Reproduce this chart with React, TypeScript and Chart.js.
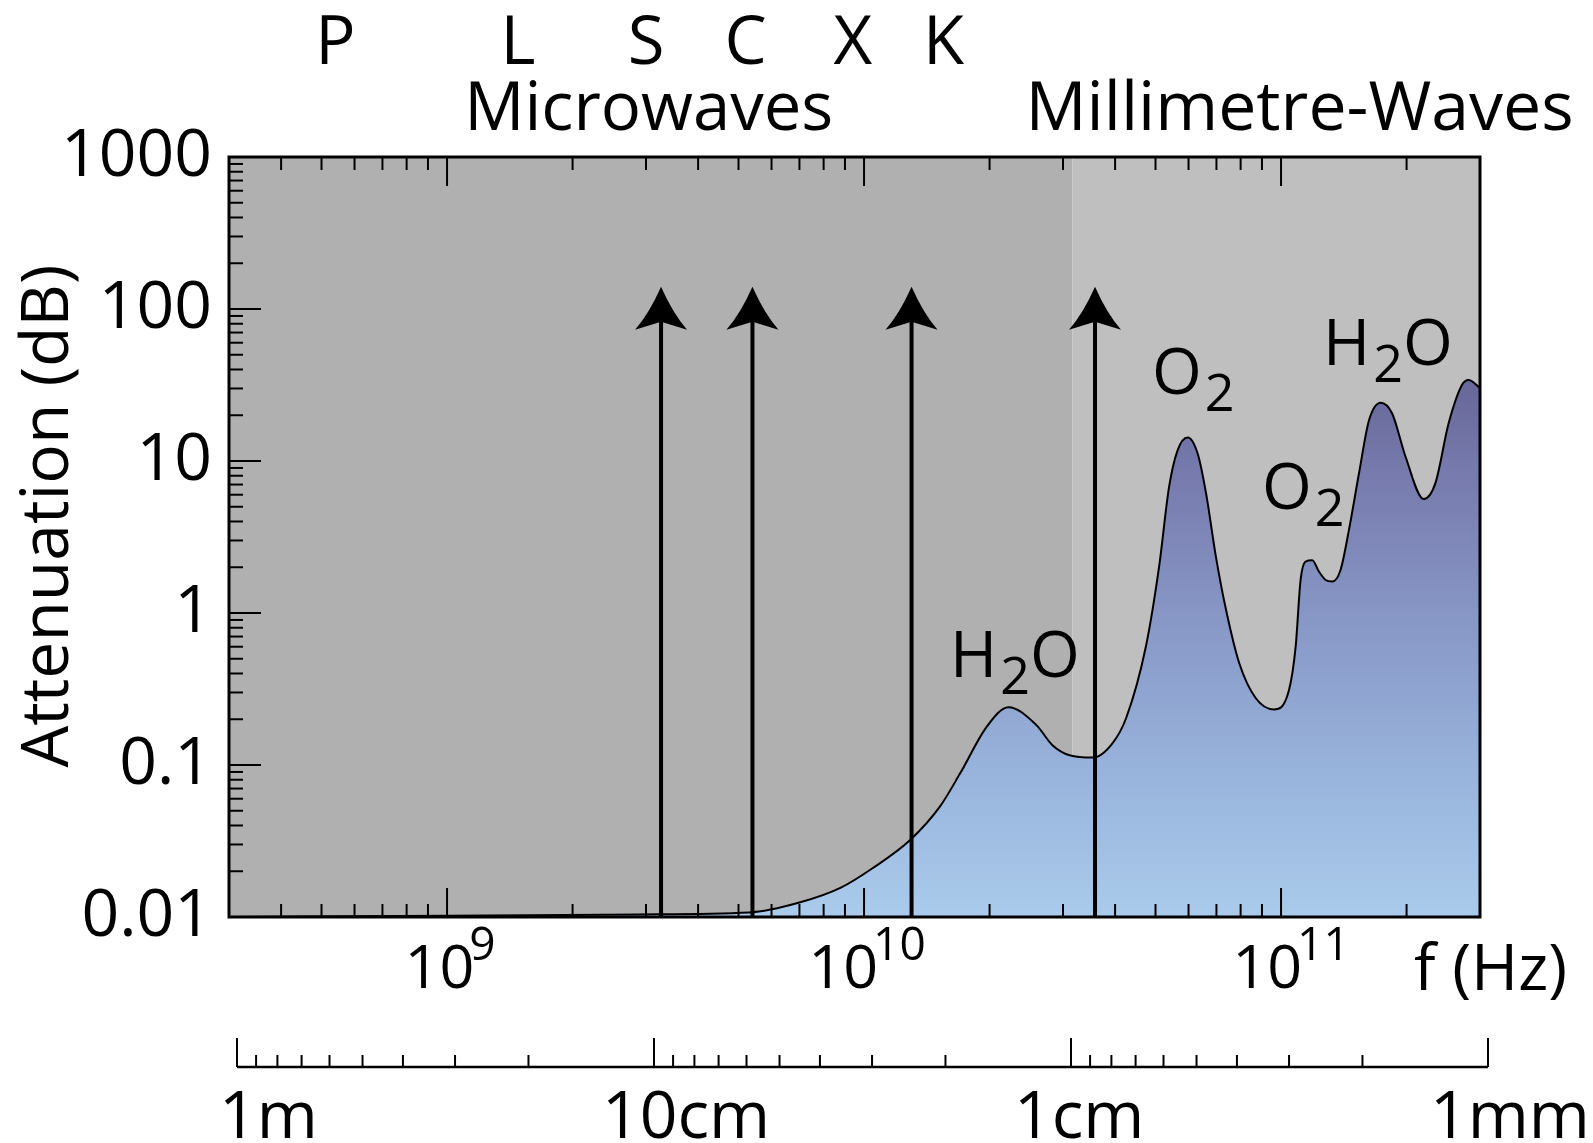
import { useEffect, useRef } from 'react';
import { Chart, registerables } from 'chart.js';

Chart.register(...registerables);

const FONT = '"Open Sans", "Noto Sans", sans-serif';

// Atmospheric attenuation along a horizontal path, frequency in Hz, attenuation in dB
const frequencyHz = [
  3.0e8, 1.0e9, 2.9e9, 5.3e9, 7.0e9, 8.8e9, 10.5e9, 12.9e9, 15.2e9, 17.0e9,
  19.7e9, 22.2e9, 25.9e9, 28.3e9, 31.1e9, 35.4e9, 39.5e9, 42.5e9, 47.4e9, 51.0e9,
  53.9e9, 56.5e9, 59.7e9, 63.1e9, 66.1e9, 69.8e9, 73.8e9, 79.4e9, 87.0e9, 96.2e9,
  104.5e9, 108.4e9, 111.4e9, 114.5e9, 118.8e9, 123.3e9, 127.9e9, 132.7e9, 138.9e9, 145.5e9,
  153.8e9, 162.6e9, 173.4e9, 184.6e9, 198.8e9, 219.8e9, 234.4e9, 252.3e9, 271.5e9, 281.6e9,
  300e9,
];
const attenuationDb = [
  0.0100, 0.0102, 0.0104, 0.0107, 0.01245, 0.0156, 0.0210, 0.0321, 0.0532, 0.0881,
  0.179, 0.240, 0.183, 0.135, 0.116, 0.112, 0.140, 0.203, 0.600, 2.02,
  6.78, 11.8, 14.3, 11.2, 6.13, 2.34, 1.05, 0.467, 0.275, 0.232,
  0.311, 0.600, 1.65, 2.18, 2.22, 1.87, 1.65, 1.61, 1.92, 3.52,
  8.30, 18.6, 24.2, 20.6, 10.7, 5.62, 7.13, 17.7, 31.6, 34.1,
  30.2,
];

// Radar band letters and the frequency each one sits over
const radarBands = ['P', 'L', 'S', 'C', 'X', 'K'];
const radarBandHz = [5.4e8, 1.48e9, 3.0e9, 5.2e9, 9.4e9, 1.55e10];

// Transmission-window arrows
const windowArrowHz = [3.26e9, 5.4e9, 1.3e10, 3.58e10];
const arrowTopDb = 140;

// Spectrum regions, split at the microwave / millimetre-wave edge
const regionNames = ['Microwaves', 'Millimetre-Waves'];
const microwaveEdgeHz = 3.16e10;

// Axis ranges and tick labels
const xMinHz = 3e8;
const xMaxHz = 3e11;
const yMinDb = 0.01;
const yMaxDb = 1000;
const xDecadeHz = [1e9, 1e10, 1e11];
const xDecadeExponent = ['9', '10', '11'];
const yTickDb = [0.01, 0.1, 1, 10, 100, 1000];
const yTickLabels = ['0.01', '0.1', '1', '10', '100', '1000'];
const wavelengthM = [1, 0.1, 0.01, 0.001];
const wavelengthLabels = ['1m', '10cm', '1cm', '1mm'];

// Absorption line labels: [text, subscript?] pieces
const moleculeLabels: [string, boolean][][] = [
  [['H', false], ['2', true], ['O', false]],
  [['O', false], ['2', true]],
  [['O', false], ['2', true]],
  [['H', false], ['2', true], ['O', false]],
];

const SPEED_OF_LIGHT = 3e8;

// Layout (pixels)
const W = 1593;
const H = 1143;
const AREA = { left: 229, right: 1480, top: 157, bottom: 917 };
const MOLECULE_POS = [
  { left: 950, baseline: 677 },
  { left: 1152, baseline: 394 },
  { left: 1262, baseline: 509 },
  { left: 1323, baseline: 365 },
];
const WAVE_AXIS_Y = 1067;
const WAVE_AXIS_SHIFT = 8;
const WAVE_LABEL_DX = [-18, -52, -57, -58];
const DECADE_LABEL_DX = [3, 3, 10];

const decorPlugin = {
  id: 'spectrumDecor',
  beforeDatasetsDraw(chart: any) {
    const { ctx, chartArea, scales } = chart;
    const { left, right, top, bottom } = chartArea;
    const xe = scales.x.getPixelForValue(microwaveEdgeHz);
    ctx.save();
    ctx.fillStyle = '#b0b0b0';
    ctx.fillRect(left, top, xe - left, bottom - top);
    ctx.fillStyle = '#bfbfbf';
    ctx.fillRect(xe, top, right - xe, bottom - top);
    ctx.restore();
  },
  afterDatasetsDraw(chart: any) {
    const { ctx, chartArea, scales } = chart;
    const xs = scales.x;
    const ys = scales.y;
    const { left, right, top, bottom } = chartArea;
    ctx.save();
    ctx.fillStyle = '#000';
    ctx.strokeStyle = '#000';

    const seg = (x1: number, y1: number, x2: number, y2: number) => {
      ctx.beginPath();
      ctx.moveTo(x1, y1);
      ctx.lineTo(x2, y2);
      ctx.stroke();
    };

    // window arrows
    const yTip = ys.getPixelForValue(arrowTopDb);
    windowArrowHz.forEach((f) => {
      const x = xs.getPixelForValue(f);
      ctx.lineWidth = 4;
      seg(x, bottom, x, yTip + 34);
      ctx.beginPath();
      ctx.moveTo(x, yTip);
      ctx.quadraticCurveTo(x + 12, yTip + 27, x + 26, yTip + 43);
      ctx.lineTo(x, yTip + 35);
      ctx.lineTo(x - 26, yTip + 43);
      ctx.quadraticCurveTo(x - 12, yTip + 27, x, yTip);
      ctx.closePath();
      ctx.fill();
    });

    // frequency ticks, bottom and top, pointing inwards
    ctx.lineWidth = 2;
    for (let e = 8; e <= 11; e++) {
      for (let m = 1; m <= 9; m++) {
        const f = m * Math.pow(10, e);
        if (f <= xMinHz * 1.001 || f >= xMaxHz * 0.999) continue;
        const x = xs.getPixelForValue(f);
        const len = m === 1 ? 29 : 13;
        seg(x, bottom, x, bottom - len);
        seg(x, top, x, top + len);
      }
    }
    // attenuation ticks on the left
    for (let e = -2; e <= 2; e++) {
      for (let m = 1; m <= 9; m++) {
        const v = m * Math.pow(10, e);
        if (v <= yMinDb * 1.001 || v >= yMaxDb * 0.999) continue;
        const y = ys.getPixelForValue(v);
        const len = m === 1 ? 32 : 14;
        seg(left, y, left + len, y);
      }
    }

    // frame
    ctx.lineWidth = 3;
    ctx.strokeRect(left, top, right - left, bottom - top);

    // frequency decade labels with superscript exponents
    ctx.textBaseline = 'alphabetic';
    ctx.textAlign = 'left';
    xDecadeHz.forEach((f, i) => {
      const x = xs.getPixelForValue(f);
      ctx.font = `61px ${FONT}`;
      const wBase = ctx.measureText('10').width;
      ctx.font = `46px ${FONT}`;
      const wExp = ctx.measureText(xDecadeExponent[i]).width;
      const total = wBase + wExp - 5;
      const x0 = x + DECADE_LABEL_DX[i] - total / 2;
      ctx.font = `61px ${FONT}`;
      ctx.fillText('10', x0, 988);
      ctx.font = `46px ${FONT}`;
      ctx.fillText(xDecadeExponent[i], x0 + wBase - 5, 960);
    });
    ctx.font = `64px ${FONT}`;
    ctx.fillText('f (Hz)', 1414, 990);

    // wavelength axis
    const xw = (lambda: number) => xs.getPixelForValue(SPEED_OF_LIGHT / lambda) + WAVE_AXIS_SHIFT;
    ctx.lineWidth = 2.5;
    seg(xw(wavelengthM[0]), WAVE_AXIS_Y, xw(wavelengthM[wavelengthM.length - 1]), WAVE_AXIS_Y);
    ctx.lineWidth = 2;
    wavelengthM.forEach((lam) => seg(xw(lam), WAVE_AXIS_Y, xw(lam), WAVE_AXIS_Y - 29));
    for (let k = -1; k >= -3; k--) {
      for (let m = 2; m <= 9; m++) {
        const lam = m * Math.pow(10, k);
        seg(xw(lam), WAVE_AXIS_Y, xw(lam), WAVE_AXIS_Y - 12);
      }
    }
    ctx.font = `66px ${FONT}`;
    wavelengthLabels.forEach((t, i) => {
      ctx.fillText(t, xw(wavelengthM[i]) + WAVE_LABEL_DX[i], 1138);
    });

    // radar band letters
    ctx.font = `67px ${FONT}`;
    ctx.textAlign = 'center';
    radarBands.forEach((b, i) => ctx.fillText(b, xs.getPixelForValue(radarBandHz[i]), 64));

    // spectrum region names
    const xe = xs.getPixelForValue(microwaveEdgeHz);
    ctx.fillText(regionNames[0], (left + xe) / 2 - 2, 130);
    ctx.textAlign = 'left';
    ctx.font = `68px ${FONT}`;
    ctx.fillText(regionNames[1], xe - 47, 130);

    // absorption line labels
    moleculeLabels.forEach((parts, i) => {
      let x = MOLECULE_POS[i].left;
      const base = MOLECULE_POS[i].baseline;
      parts.forEach(([t, sub]) => {
        ctx.font = sub ? `52px ${FONT}` : `64px ${FONT}`;
        ctx.fillText(t, x, base + (sub ? 17 : 0));
        x += ctx.measureText(t).width + (sub ? 0 : 3);
      });
    });

    // vertical axis title
    ctx.translate(68, 516);
    ctx.rotate(-Math.PI / 2);
    ctx.textAlign = 'center';
    ctx.font = `66px ${FONT}`;
    ctx.fillText('Attenuation (dB)', 0, 0);

    ctx.restore();
  },
};

export default function App() {
  const canvasRef = useRef<HTMLCanvasElement | null>(null);

  useEffect(() => {
    const canvas = canvasRef.current;
    if (!canvas) return;
    const points = frequencyHz.map((f, i) => ({ x: f, y: attenuationDb[i] }));

    const chart = new Chart(canvas, {
      type: 'line',
      data: {
        datasets: [
          {
            label: 'Attenuation',
            data: points,
            borderColor: '#000',
            borderWidth: 2,
            pointRadius: 0,
            cubicInterpolationMode: 'monotone',
            fill: 'start',
            backgroundColor: (context: any) => {
              const c = context.chart;
              if (!c.chartArea) return 'rgba(0,0,0,0)';
              const ys = c.scales.y;
              const g = c.ctx.createLinearGradient(0, ys.getPixelForValue(0.01), 0, ys.getPixelForValue(30));
              g.addColorStop(0, '#aacbeb');
              g.addColorStop(0.288, '#97b2db');
              g.addColorStop(0.575, '#8796c5');
              g.addColorStop(0.863, '#7578aa');
              g.addColorStop(1, '#69689b');
              return g;
            },
          },
        ],
      },
      options: {
        responsive: false,
        maintainAspectRatio: false,
        animation: false,
        devicePixelRatio: 1,
        layout: {
          padding: { left: 0, top: AREA.top, right: W - AREA.right, bottom: H - AREA.bottom },
        },
        plugins: {
          legend: { display: false },
          tooltip: { enabled: false },
        },
        scales: {
          x: {
            type: 'logarithmic',
            min: xMinHz,
            max: xMaxHz,
            display: false,
          },
          y: {
            type: 'logarithmic',
            min: yMinDb,
            max: yMaxDb,
            position: 'left',
            grid: { display: false },
            border: { display: false },
            afterBuildTicks: (scale: any) => {
              scale.ticks = yTickDb.map((v) => ({ value: v }));
            },
            afterFit: (scale: any) => {
              scale.width = AREA.left;
            },
            ticks: {
              autoSkip: false,
              maxRotation: 0,
              padding: 9,
              color: '#000',
              font: { family: FONT, size: 66 },
              callback: (_v: any, index: number) => yTickLabels[index],
            },
          },
        },
      },
      plugins: [decorPlugin],
    });

    return () => chart.destroy();
  }, []);

  return (
    <div style={{ position: 'absolute', left: 0, top: 0, width: W, height: H, background: '#fff' }}>
      <canvas ref={canvasRef} width={W} height={H} style={{ display: 'block', width: W, height: H }} />
    </div>
  );
}
